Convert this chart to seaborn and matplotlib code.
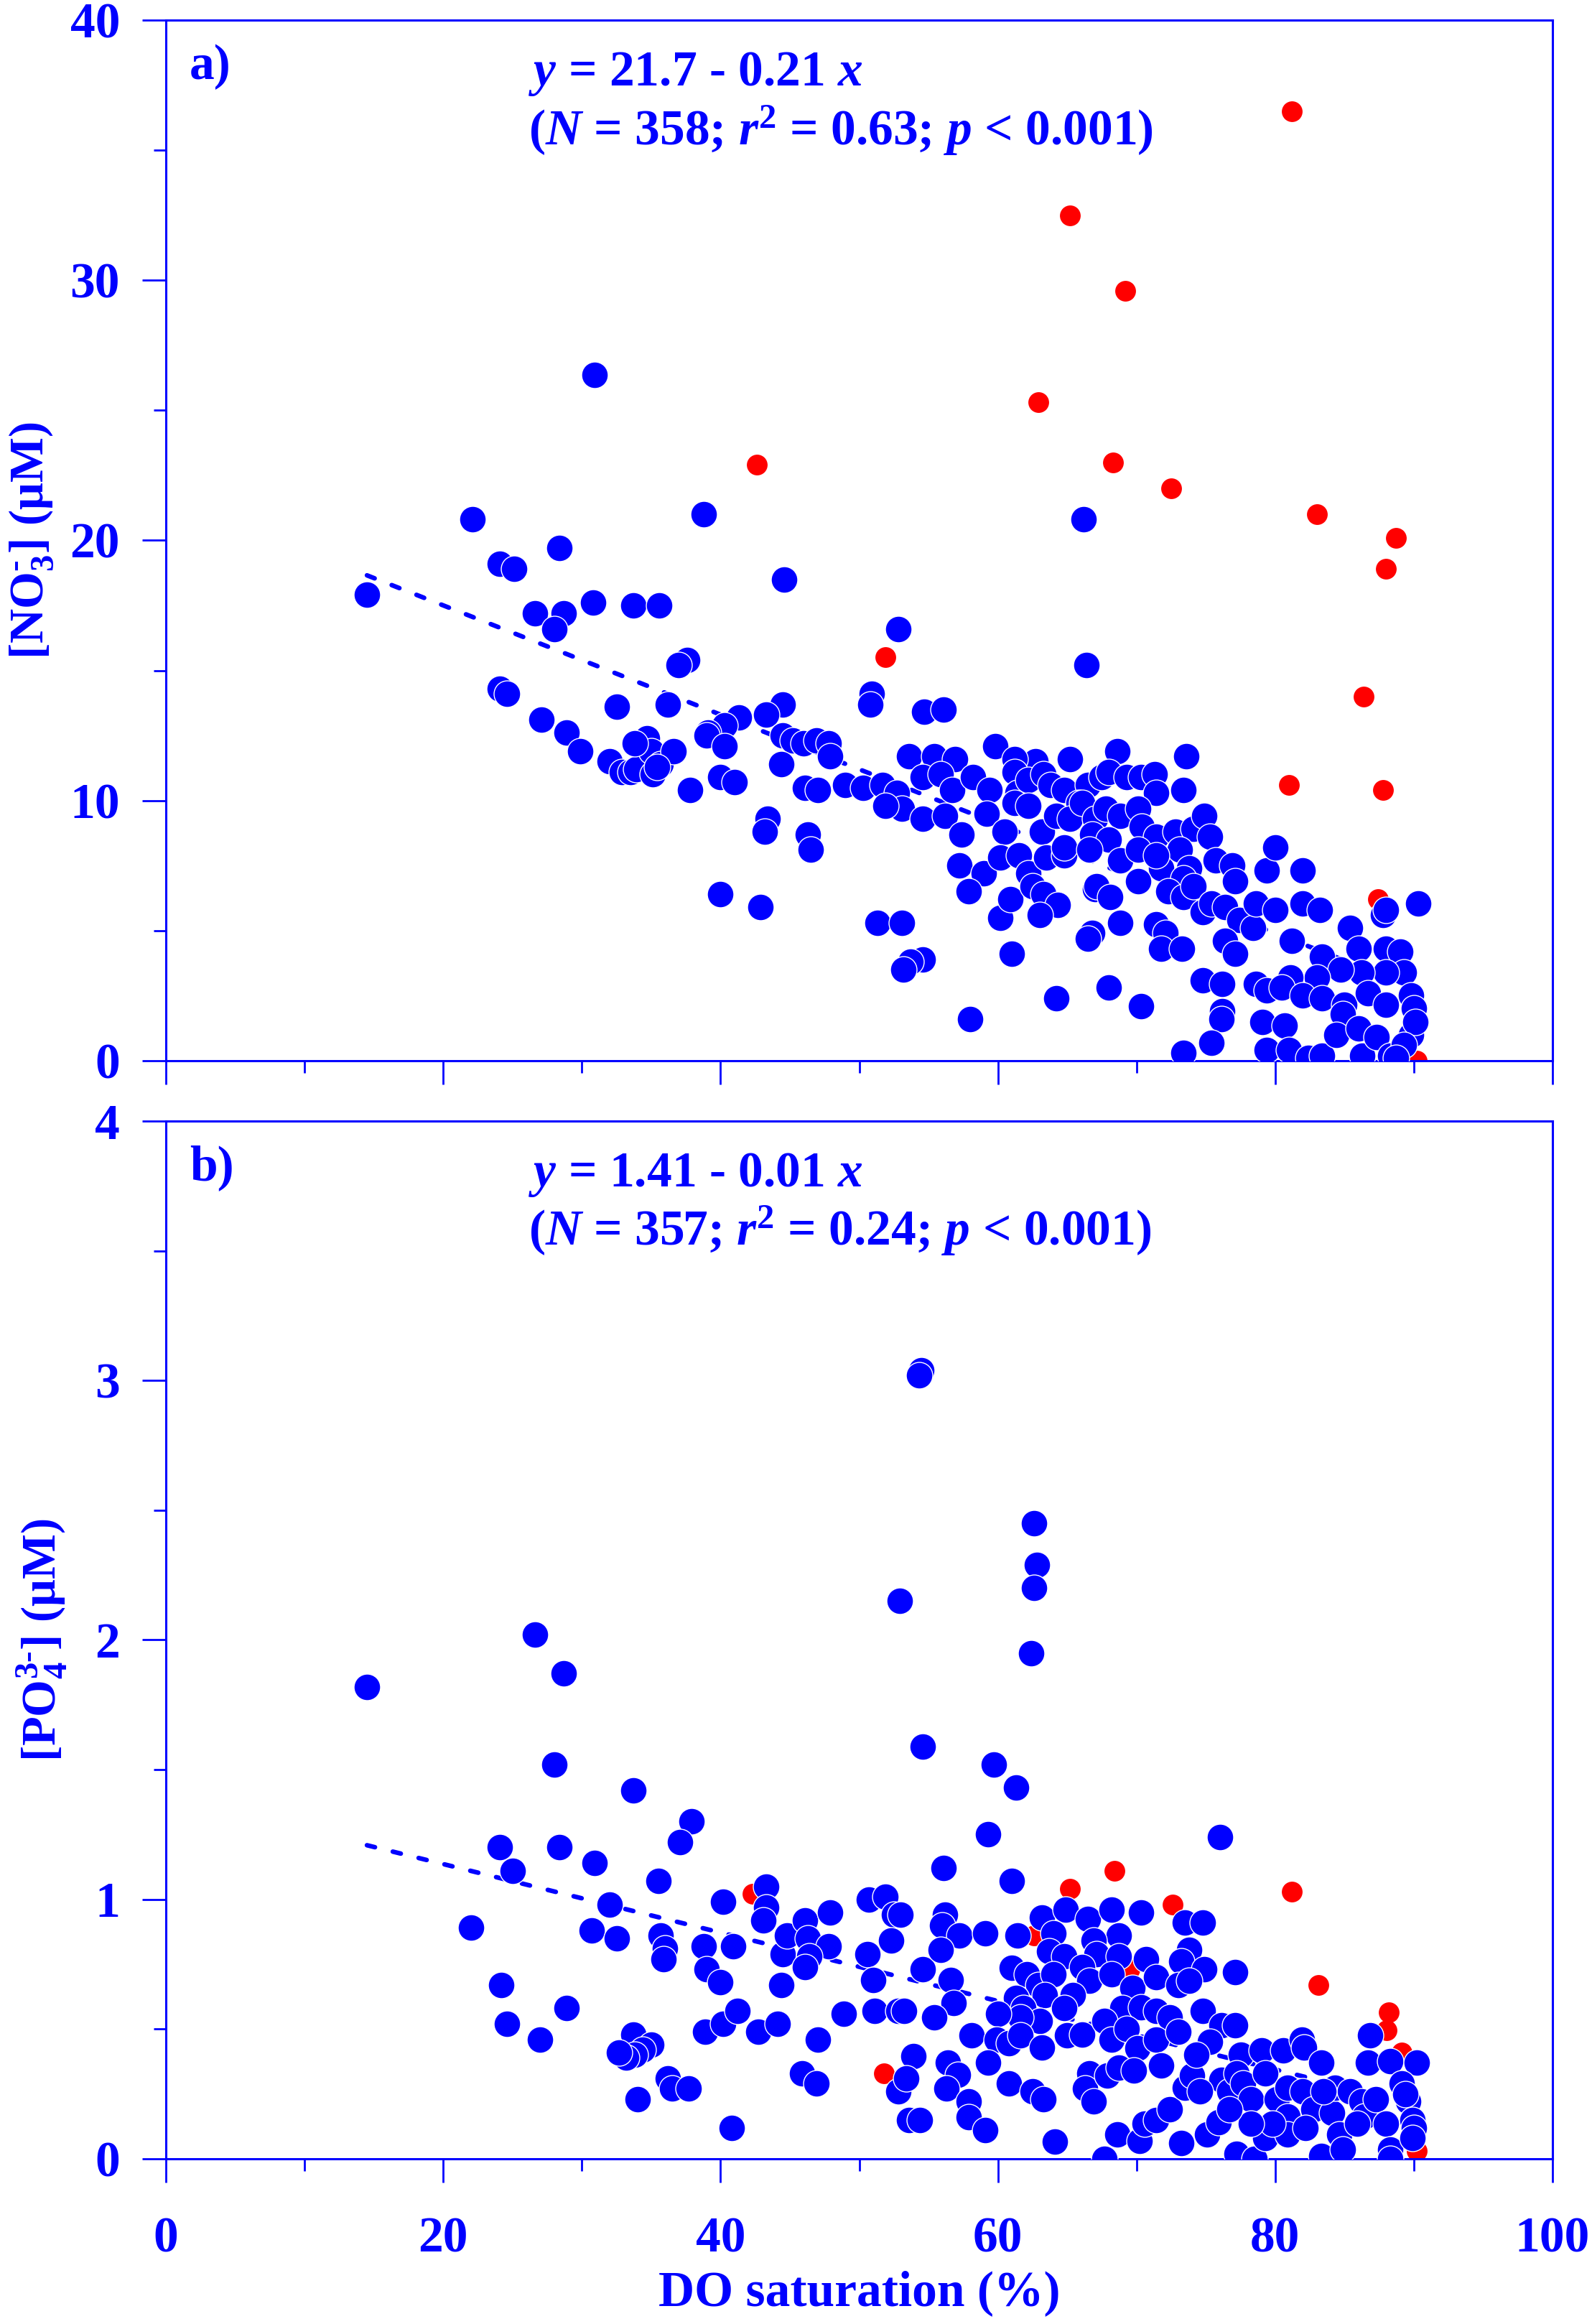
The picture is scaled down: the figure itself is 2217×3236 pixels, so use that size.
import numpy as np
import pandas as pd
import seaborn as sns
import matplotlib.pyplot as plt
from matplotlib.ticker import MultipleLocator

# ---- panel a) nitrate vs DO saturation ----
no3_blue_x = [
    30.9, 22.1, 38.8, 28.4, 24.1, 25.1, 44.6, 14.5, 26.6, 28.7,
    28.0, 30.8, 33.7, 35.6, 37.6, 37.0, 24.1, 24.6, 32.5, 36.2,
    44.5, 43.3, 41.3, 40.3, 39.1, 39.0, 40.3, 27.1, 28.9, 29.9,
    32.0, 32.9, 33.5, 33.9, 34.7, 35.0, 35.7, 36.6, 35.1, 37.8,
    40.0, 41.0, 44.5, 45.2, 46.0, 46.9, 47.8, 47.9, 44.4, 46.1,
    47.0, 49.0, 43.4, 43.2, 46.3, 46.5, 40.0, 42.9, 33.8, 35.4,
    52.8, 66.4, 50.9, 50.8, 54.7, 56.1, 59.8, 68.6, 73.6, 65.2,
    62.7, 61.2, 53.6, 55.4, 56.9, 50.3, 51.7, 52.7, 54.6, 55.9,
    56.7, 58.2, 59.4, 61.2, 61.4, 62.2, 63.3, 63.8, 64.8, 66.5,
    67.5, 68.0, 69.3, 70.3, 71.3, 71.4, 73.4, 65.8, 53.1, 51.9,
    54.6, 56.2, 57.4, 59.2, 60.5, 61.2, 62.2, 63.2, 64.2, 65.2,
    66.1, 67.0, 67.8, 68.8, 70.1, 70.4, 71.4, 72.8, 74.1, 74.9,
    75.3, 66.8, 68.0, 57.2, 59.0, 60.2, 61.5, 62.2, 63.5, 64.8,
    64.8, 66.6, 68.8, 70.1, 71.8, 73.1, 73.8, 75.7, 76.9, 77.1,
    79.4, 80.0, 82.0, 67.0, 70.1, 71.4, 73.4, 57.9, 60.2, 60.9,
    62.5, 63.3, 64.3, 63.0, 67.1, 68.1, 68.8, 66.8, 66.5, 72.3,
    73.4, 74.1, 74.8, 75.4, 76.4, 77.4, 78.4, 78.6, 80.0, 82.0,
    83.2, 85.4, 87.8, 90.3, 88.0, 51.3, 53.1, 54.6, 53.7, 53.2,
    61.0, 71.4, 72.1, 71.8, 73.3, 76.4, 77.1, 81.2, 83.4, 86.0,
    88.0, 89.0, 89.3, 88.0, 86.2, 84.7, 83.0, 81.1, 74.8, 76.2,
    78.6, 79.4, 80.5, 82.0, 83.4, 85.0, 86.7, 88.0, 89.8, 90.0,
    76.2, 76.1, 68.0, 64.2, 70.3, 58.0, 84.9, 75.4, 73.4, 79.1,
    80.7, 79.4, 81.0, 82.4, 83.4, 84.4, 86.0, 86.3, 87.3, 88.3,
    89.8, 90.1, 89.3, 88.7, 66.2,
]
no3_blue_y = [
    26.35, 20.8, 21.0, 19.7, 19.1, 18.9, 18.5, 17.9, 17.2, 17.2,
    16.6, 17.6, 17.5, 17.5, 15.4, 15.2, 14.3, 14.1, 13.6, 13.7,
    13.7, 13.3, 13.2, 12.9, 12.6, 12.5, 12.1, 13.1, 12.6, 11.9,
    11.5, 11.1, 11.1, 11.2, 12.4, 11.9, 11.4, 11.9, 11.0, 10.4,
    10.9, 10.7, 12.5, 12.3, 12.2, 12.3, 12.2, 11.7, 11.4, 10.5,
    10.4, 10.6, 9.3, 8.8, 8.7, 8.1, 6.4, 5.9, 12.2, 11.3,
    16.6, 15.2, 14.1, 13.7, 13.4, 13.5, 12.1, 11.9, 11.7, 11.6,
    11.5, 11.6, 11.7, 11.7, 11.6, 10.5, 10.6, 10.3, 10.9, 11.0,
    10.4, 10.9, 10.4, 11.1, 10.3, 10.8, 11.0, 10.6, 10.4, 10.6,
    10.9, 11.1, 10.9, 10.9, 11.0, 10.3, 10.4, 9.9, 9.7, 9.8,
    9.3, 9.4, 8.7, 9.5, 8.8, 9.9, 9.8, 8.8, 9.4, 9.3,
    9.9, 9.3, 9.7, 9.4, 9.7, 9.0, 8.6, 8.8, 8.9, 9.4,
    8.6, 8.7, 8.5, 7.5, 7.2, 7.8, 7.9, 7.2, 7.8, 7.9,
    8.2, 8.1, 7.7, 8.1, 7.4, 8.1, 7.4, 7.7, 7.5, 6.9,
    7.3, 8.2, 7.3, 6.6, 6.9, 7.9, 7.0, 6.5, 5.5, 6.2,
    6.7, 6.4, 6.0, 5.6, 6.7, 6.3, 5.3, 4.9, 4.7, 6.5,
    6.3, 6.7, 5.7, 6.05, 5.9, 5.4, 5.1, 6.05, 5.8, 6.05,
    5.8, 5.1, 5.6, 6.05, 5.8, 5.3, 5.3, 3.9, 3.8, 3.5,
    4.1, 5.25, 4.9, 4.3, 4.3, 4.6, 4.1, 4.6, 4.0, 4.3,
    4.3, 4.2, 3.4, 3.4, 3.4, 3.5, 3.2, 3.2, 3.1, 2.95,
    2.95, 2.7, 2.8, 2.5, 2.4, 2.15, 2.6, 2.15, 2.5, 2.0,
    1.9, 1.6, 2.8, 2.4, 2.1, 1.6, 1.8, 0.7, 0.3, 1.5,
    1.35, 0.4, 0.4, 0.1, 0.2, 1.0, 1.25, 0.2, 0.9, 0.2,
    1.0, 1.5, 0.6, 0.1, 20.8,
]
no3_red_x = [81.2, 65.2, 69.2, 62.9, 42.6, 68.3, 72.5, 83.0, 88.7, 88.0,
             51.9, 86.4, 81.0, 87.8, 87.4, 90.2]
no3_red_y = [36.5, 32.5, 29.6, 25.3, 22.9, 23.0, 22.0, 21.0, 20.1, 18.9,
             15.5, 14.0, 10.6, 10.4, 6.2, 0.0]

# ---- panel b) phosphate vs DO saturation ----
po4_blue_x = [
    14.5, 26.6, 28.7, 28.0, 33.7, 37.9, 37.1, 24.1, 28.4, 25.0,
    30.9, 35.5, 32.0, 22.0, 30.7, 32.5, 40.2, 43.3, 43.3, 43.1,
    35.7, 36.0, 35.9, 38.8, 40.9, 39.0, 40.0, 44.5, 44.8, 46.1,
    47.9, 46.3, 47.8, 46.4, 46.1, 44.4, 50.7, 51.9, 52.5, 52.3,
    50.6, 51.0, 24.2, 24.6, 27.0, 28.9, 33.7, 35.0, 34.4, 33.8,
    33.2, 32.7, 38.9, 40.2, 41.2, 42.7, 44.1, 48.9, 51.1, 52.8,
    47.0, 45.9, 46.9, 36.2, 36.5, 37.7, 34.0, 40.8, 52.8, 52.9,
    54.5, 54.3,
    62.4, 54.6, 59.7, 61.3, 59.3, 76.0, 56.1, 61.0, 53.0, 56.2,
    56.0, 57.2, 59.1, 61.4, 63.2, 64.9, 66.5, 68.2, 70.3, 73.5,
    74.8, 64.0, 68.7, 66.9, 63.7, 64.8, 67.1, 68.7, 70.7, 73.8,
    73.2, 74.9, 77.1, 54.6, 55.9, 56.6, 61.0, 62.1, 62.9, 64.0,
    66.1, 66.6, 68.2, 69.7, 71.4, 73.0, 73.8, 53.25, 56.8, 55.4,
    61.3, 63.4, 65.4, 61.85, 63.0, 64.8, 61.6, 69.0, 70.3, 71.4,
    72.4, 74.8, 76.1, 77.1, 60.0, 58.1, 59.9, 60.8, 61.6, 63.2,
    65.0, 66.1, 67.7, 68.2, 69.3, 70.05, 71.4, 73.0, 75.3, 77.5,
    79.05, 80.6, 81.95, 82.1, 83.3, 86.85, 86.7, 88.3, 90.2, 53.9,
    59.3, 56.4, 57.1, 53.4, 56.3, 57.9, 60.8, 62.5, 63.3, 57.9,
    59.1, 53.6, 54.4, 64.1, 66.6, 66.3, 66.9, 67.9, 68.7, 69.8,
    71.8, 68.6, 70.2, 70.6, 71.4, 72.4, 67.7, 73.2, 73.5, 74.0,
    74.3, 75.1, 75.9, 76.1, 76.7, 77.2, 77.7, 78.25, 77.2, 78.5,
    79.3, 79.3, 80.1, 80.9, 80.9, 82.0, 82.75, 83.3, 84.1, 84.6,
    84.9, 84.3, 85.4, 86.2, 86.45, 87.25, 88.0, 88.3, 88.3, 89.1,
    89.6, 89.9, 90.0, 89.9, 89.4, 80.9, 79.8, 78.25, 76.7, 74.55,
    82.2, 83.5, 85.9, 62.6, 62.8, 62.6,
]
po4_blue_y = [
    1.82, 2.02, 1.87, 1.52, 1.42, 1.30, 1.22, 1.20, 1.20, 1.11,
    1.14, 1.07, 0.98, 0.89, 0.88, 0.85, 0.99, 1.05, 0.97, 0.92,
    0.86, 0.81, 0.77, 0.82, 0.82, 0.73, 0.68, 0.79, 0.86, 0.92,
    0.95, 0.85, 0.82, 0.78, 0.74, 0.67, 1.00, 1.01, 0.94, 0.84,
    0.79, 0.69, 0.67, 0.52, 0.46, 0.58, 0.48, 0.44, 0.42, 0.40,
    0.39, 0.41, 0.49, 0.52, 0.57, 0.49, 0.52, 0.56, 0.57, 0.57,
    0.46, 0.33, 0.29, 0.31, 0.27, 0.27, 0.23, 0.12, 0.26, 2.15,
    3.04, 3.02,
    1.95, 1.59, 1.52, 1.43, 1.25, 1.24, 1.12, 1.07, 0.94, 0.94,
    0.90, 0.86, 0.87, 0.86, 0.93, 0.96, 0.925, 0.96, 0.95, 0.91,
    0.91, 0.87, 0.86, 0.84, 0.80, 0.78, 0.79, 0.78, 0.77, 0.805,
    0.76, 0.73, 0.72, 0.73, 0.805, 0.69, 0.735, 0.71, 0.67, 0.71,
    0.74, 0.685, 0.71, 0.66, 0.70, 0.67, 0.685, 0.57, 0.60, 0.545,
    0.62, 0.63, 0.63, 0.58, 0.53, 0.58, 0.545, 0.58, 0.585, 0.57,
    0.545, 0.57, 0.515, 0.515, 0.56, 0.475, 0.46, 0.445, 0.475, 0.43,
    0.475, 0.48, 0.53, 0.46, 0.50, 0.425, 0.46, 0.49, 0.45, 0.40,
    0.417, 0.417, 0.46, 0.43, 0.37, 0.475, 0.37, 0.375, 0.37, 0.395,
    0.37, 0.37, 0.325, 0.31, 0.27, 0.22, 0.29, 0.26, 0.23, 0.16,
    0.11, 0.15, 0.15, 0.065, 0.33, 0.27, 0.22, 0.32, 0.35, 0.34,
    0.36, 0.093, 0.07, 0.135, 0.15, 0.19, 0.0, 0.06, 0.275, 0.32,
    0.40, 0.093, 0.142, 0.305, 0.26, 0.33, 0.29, 0.23, 0.02, 0.0,
    0.08, 0.33, 0.23, 0.275, 0.163, 0.26, 0.19, 0.01, 0.177, 0.093,
    0.037, 0.275, 0.26, 0.22, 0.163, 0.23, 0.135, 0.037, 0.0, 0.29,
    0.22, 0.15, 0.12, 0.08, 0.25, 0.093, 0.135, 0.135, 0.19, 0.26,
    0.12, 0.26, 0.135, 2.45, 2.29, 2.20,
]
po4_red_x = [42.3, 51.8, 62.6, 65.2, 68.4, 69.5, 72.6, 81.2, 83.1, 88.2,
             88.05, 89.1, 90.2]
po4_red_y = [1.02, 0.33, 0.86, 1.04, 1.11, 0.73, 0.98, 1.03, 0.67, 0.565,
             0.495, 0.41, 0.03]

# regression lines (intercept, slope) and stats text
fit_a = (21.7, -0.21)
fit_b = (1.40, -0.0132)
eq_a = ["$y$ = 21.7 - 0.21 $x$", "($N$ = 358; $r$$^2$ = 0.63; $p$ < 0.001)"]
eq_b = ["$y$ = 1.41 - 0.01 $x$", "($N$ = 357; $r$$^2$ = 0.24; $p$ < 0.001)"]

BLUE = "#0000FF"
RED = "#FF0000"

sns.set_theme(style="white")
plt.rcParams["font.family"] = ["Liberation Serif", "DejaVu Serif"]
plt.rcParams["font.weight"] = "bold"
plt.rcParams["mathtext.fontset"] = "custom"
plt.rcParams["mathtext.rm"] = "Liberation Serif:bold"
plt.rcParams["mathtext.it"] = "Liberation Serif:bold:italic"
plt.rcParams["mathtext.bf"] = "Liberation Serif:bold"

FS = 25

fig = plt.figure(figsize=(11.085, 16.18), dpi=200)
ax_a = fig.add_axes([0.1042, 0.5436, 0.871, 0.4478])
ax_b = fig.add_axes([0.1042, 0.0711, 0.871, 0.4465])


def draw_panel(ax, bx, by, rx, ry, fit, eq, tag, ylim, ymaj, ylab, labx):
    blue = pd.DataFrame({"x": bx, "y": by})
    xs = np.array([blue["x"].min(), blue["x"].max()])
    ax.plot(xs, fit[0] + fit[1] * xs, color=BLUE, lw=2.3,
            linestyle=(0, (1.8, 4.0)), dash_capstyle="round", zorder=1)
    sns.scatterplot(x=rx, y=ry, ax=ax, color=RED, s=108, linewidth=0,
                    zorder=2)
    sns.scatterplot(data=blue, x="x", y="y", ax=ax, color=BLUE, s=177,
                    edgecolor="white", linewidth=0.5, zorder=3)
    ax.set_xlim(0, 100)
    ax.set_ylim(*ylim)
    ax.xaxis.set_major_locator(MultipleLocator(20))
    ax.xaxis.set_minor_locator(MultipleLocator(10))
    ax.yaxis.set_major_locator(MultipleLocator(ymaj))
    ax.yaxis.set_minor_locator(MultipleLocator(ymaj / 2))
    ax.tick_params(which="both", direction="out", color=BLUE, width=1.0,
                   labelcolor=BLUE, labelsize=FS, pad=11,
                   left=True, bottom=True, top=False, right=False)
    ax.tick_params(axis="x", which="both", pad=17)
    ax.tick_params(which="major", length=12)
    ax.tick_params(which="minor", length=6)
    for sp in ax.spines.values():
        sp.set_color(BLUE)
        sp.set_linewidth(1.1)
    ax.set_ylabel(ylab, color=BLUE, fontsize=24, fontweight="bold")
    ax.yaxis.set_label_coords(labx, 0.5)
    ax.text(0.017, 0.955, tag, transform=ax.transAxes, color=BLUE,
            fontsize=FS, fontweight="bold", ha="left", va="center")
    ax.text(0.2615, 0.948, eq[0], transform=ax.transAxes, color=BLUE,
            fontsize=FS, fontweight="bold", ha="left", va="center")
    ax.text(0.2615, 0.894, eq[1], transform=ax.transAxes, color=BLUE,
            fontsize=FS, fontweight="bold", ha="left", va="center")


draw_panel(ax_a, no3_blue_x, no3_blue_y, no3_red_x, no3_red_y, fit_a, eq_a,
           "a)", (0, 40), 10, "[NO$_3^{\\text{-}}$] (\u03bcM)", -0.080)
draw_panel(ax_b, po4_blue_x, po4_blue_y, po4_red_x, po4_red_y, fit_b, eq_b,
           "b)", (0, 4), 1, "[PO$_4^{3\\text{-}}$] (\u03bcM)", -0.070)

ax_a.set_xlabel("")
ax_a.tick_params(axis="x", labelbottom=False)
ax_b.set_xlabel("DO saturation (%)", color=BLUE, fontsize=FS,
                fontweight="bold", labelpad=4)

fig.savefig("out.png", dpi=200)
